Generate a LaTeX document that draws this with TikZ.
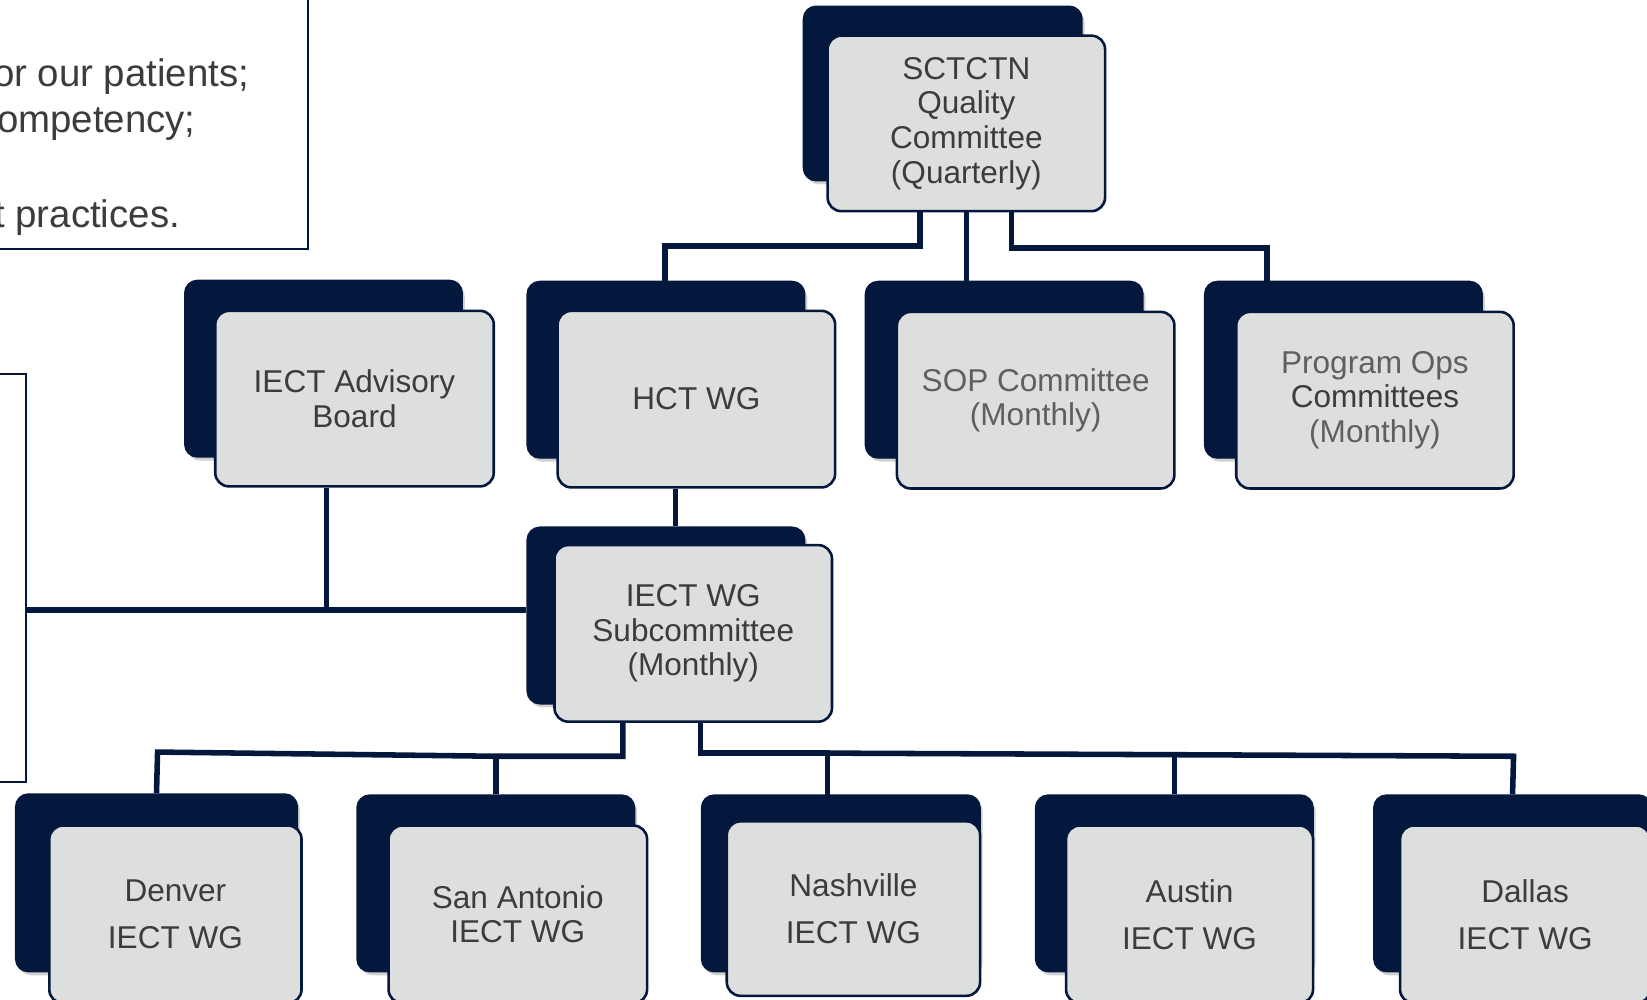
\documentclass[tikz,border=0pt]{standalone}
\usepackage{fontspec}
\setmainfont{Liberation Sans}
\usetikzlibrary{shadows,calc}
\definecolor{navy}{RGB}{4,24,62}
\definecolor{boxgray}{RGB}{221,223,222}
\definecolor{txt}{RGB}{60,60,60}
\definecolor{txtlight}{RGB}{95,95,95}
\newcommand\bfnt{\fontsize{8.54pt}{9.39pt}\selectfont}
\newcommand\tfnt{\fontsize{10.4pt}{12.8pt}\selectfont}
\begin{document}
\begin{tikzpicture}[x=0.01cm,y=-0.01cm,
  backbox/.style={fill=navy,draw=navy,rounded corners=0.12cm,inner sep=0pt,
     drop shadow={shadow xshift=0.025cm,shadow yshift=-0.035cm,opacity=0.3,fill=black!60}},
  frontbox/.style={fill=boxgray,draw=navy,line width=0.7pt,rounded corners=0.13cm,inner sep=0pt,align=center,font=\bfnt,text=txt},
  conn/.style={draw=navy,line width=1.5pt},
  frame/.style={draw=navy,line width=0.6pt,inner sep=0pt},
  sidetext/.style={font=\tfnt,text=txt,inner sep=0pt,anchor=east},
  sz/.style 2 args={minimum width=#1,minimum height=#2}]
\useasboundingbox (0,0) rectangle (1568,952);

% frames at the left
\node[frame,minimum width=3.14cm,minimum height=2.58cm,anchor=south east] (goals) at (294,238) {};
\node[frame,minimum width=0.46cm,minimum height=3.88cm,anchor=north east] (side) at (26,355) {};
\node[sidetext] (g1) at (238,73) {or our patients;};
\node[sidetext] (g2) at (187,118) {ompetency;};
\node[sidetext] (g3) at (172,207) {t practices.};

% back boxes
\node[backbox,sz={2.65cm}{1.66cm}] (topb) at (897.5,89) {};
\node[backbox,sz={2.64cm}{1.68cm}] (advb) at (308,351) {};
\node[backbox,sz={2.64cm}{1.68cm}] (hctb) at (634,352) {};
\node[backbox,sz={2.64cm}{1.68cm}] (sopb) at (956,352) {};
\node[backbox,sz={2.64cm}{1.68cm}] (progb) at (1279,352) {};
\node[backbox,sz={2.64cm}{1.68cm}] (subb) at (634,586) {};
\node[backbox,sz={2.68cm}{1.69cm}] (denb) at (149,840.5) {};
\node[backbox,sz={2.64cm}{1.68cm}] (sab) at (472,841) {};
\node[backbox,sz={2.65cm}{1.68cm}] (nashb) at (800.5,841) {};
\node[backbox,sz={2.64cm}{1.68cm}] (ausb) at (1118,841) {};
\node[backbox,sz={2.64cm}{1.68cm}] (dalb) at (1440,841) {};

% front boxes
\node[frontbox,sz={2.64cm}{1.67cm}] (top) at (920,117.5) {SCTCTN\\Quality\\Committee\\(Quarterly)};
\node[frontbox,sz={2.65cm}{1.67cm}] (adv) at (337.5,379.5) {IECT Advisory\\Board};
\node[frontbox,sz={2.64cm}{1.68cm}] (hct) at (663,380) {HCT WG};
\node[frontbox,sz={2.64cm}{1.68cm},text=txtlight] (sop) at (986,381) {SOP Committee\\(Monthly)};
\node[frontbox,sz={2.64cm}{1.68cm}] (prog) at (1309,381) {\textcolor{txtlight}{Program Ops}\\Committees\\\textcolor{txtlight}{(Monthly)}};
\node[frontbox,sz={2.64cm}{1.68cm}] (sub) at (660,603) {IECT WG\\Subcommittee\\(Monthly)};
\node[frontbox,sz={2.40cm}{1.69cm}] (den) at (167,870.5) {Denver\\[3.4pt]IECT WG};
\node[frontbox,sz={2.46cm}{1.69cm}] (sa) at (493,870.5) {San Antonio\\IECT WG};
\node[frontbox,sz={2.41cm}{1.66cm}] (nash) at (812.5,865) {Nashville\\[3.4pt]IECT WG};
\node[frontbox,sz={2.35cm}{1.69cm}] (aus) at (1132.5,870.5) {Austin\\[3.4pt]IECT WG};
\node[frontbox,sz={2.38cm}{1.69cm}] (dal) at (1452,870.5) {Dallas\\[3.4pt]IECT WG};

% connectors
\draw[conn] ($(top.south)+(-44,0)$) -- ++(0,32) -| ($(hctb.north)+(-1,0)$);
\draw[conn] (top.south) -- (top.south |- sopb.north);
\draw[conn] ($(top.south)+(43,0)$) -- ++(0,34) -| ($(progb.north)+(-73,0)$);

\path ($(hct.south)+(-20,0)$) coordinate (h1);
\draw[conn] (h1) -- (h1 |- subb.north);

\coordinate (yl) at (0,581);
\path ($(adv.south)+(-26.5,0)$) coordinate (a1);
\draw[conn] (a1) -- (a1 |- yl);
\draw[conn] (side.east |- yl) -- (subb.west |- yl);

\path ($(sub.south)+(-67,0)$) coordinate (s1);
\path ($(sub.south)+(7,0)$) coordinate (s2);
\coordinate (j1) at (472,720);
\coordinate (j2) at (150,716);
\coordinate (j3) at (788,717);
\coordinate (j4) at (1441,720);
\coordinate (j5) at (1118,719);
\draw[conn] (s1) |- (j1) -- (j2) -- (denb.north);
\draw[conn] (j1) -- (sab.north);
\draw[conn] (s2) |- (j3) -- ($(nashb.north)+(-12.5,12)$);
\draw[conn] (j3) -- (j4) -- (dalb.north);
\draw[conn] (j5) -- (ausb.north);
\end{tikzpicture}
\end{document}
